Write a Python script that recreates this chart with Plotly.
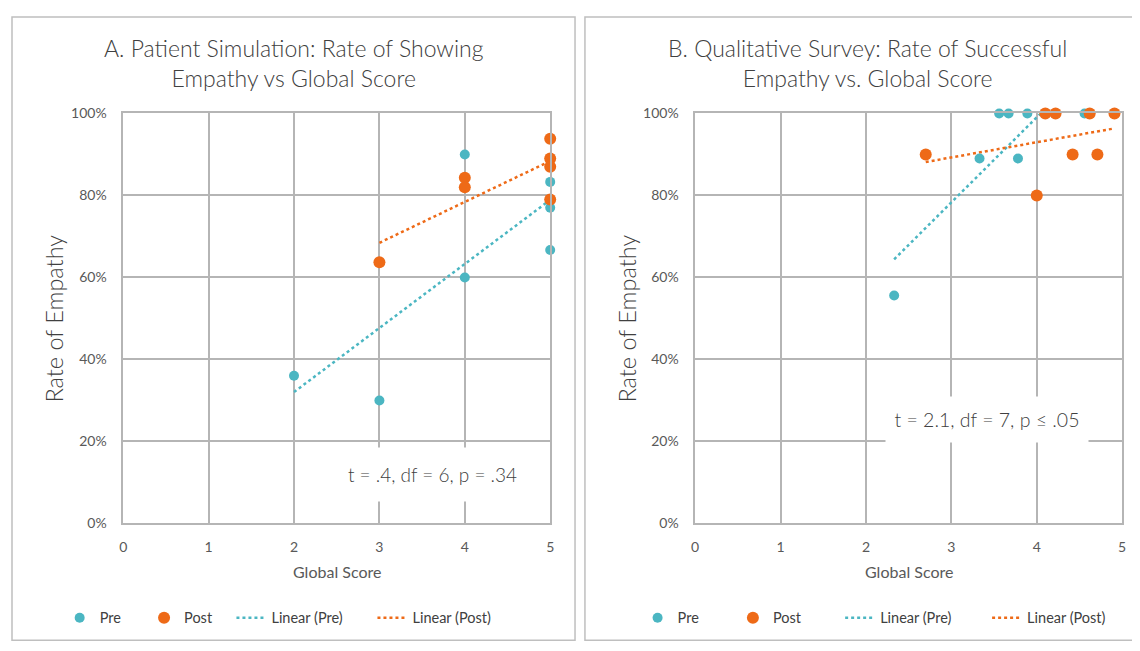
import numpy as np
import plotly.graph_objects as go

# ---------------- data ----------------
a_pre_x = [2, 3, 4, 4, 5, 5, 5]
a_pre_y = [0.36, 0.30, 0.90, 0.60, 0.833, 0.77, 0.667]
a_post_x = [3, 4, 4, 5, 5, 5, 5]
a_post_y = [0.637, 0.843, 0.82, 0.938, 0.89, 0.87, 0.79]

b_pre_x = [2.33, 3.33, 3.56, 3.67, 3.78, 3.89, 4.56]
b_pre_y = [0.556, 0.89, 1.0, 1.0, 0.89, 1.0, 1.0]
b_post_x = [2.7, 4.1, 4.22, 4.62, 4.91, 4.42, 4.71, 4.0]
b_post_y = [0.90, 1.0, 1.0, 1.0, 1.0, 0.90, 0.90, 0.80]

titles = ["A. Patient Simulation: Rate of Showing<br>Empathy vs Global Score",
          "B. Qualitative Survey: Rate of Successful<br>Empathy vs. Global Score"]
stats = ["t = .4, df = 6, p = .34", "t = 2.1, df = 7, p \u2264 .05"]
series_names = ["Pre", "Post", "Linear (Pre)", "Linear (Post)"]
x_ticks = [0, 1, 2, 3, 4, 5]
y_ticks = [0, 0.2, 0.4, 0.6, 0.8, 1.0]

TEAL = "#4BB6C2"
ORANGE = "#EE6A17"
GRID = "#B5B5B5"
FONT = "Lato"
W, H = 1140, 651
OFF = 8  # page body margin

def px(v):
    return (v - OFF) / W

def py(v):
    return 1 - (v - OFF) / H

fig = go.Figure()

def trend(xs, ys):
    m, b = np.polyfit(xs, ys, 1)
    x0, x1 = min(xs), max(xs)
    return [x0, x1], [m * x0 + b, m * x1 + b]

# legend item start positions (px) for each panel: Pre, Post, Linear (Pre), Linear (Post)
legend_starts = [[56, 141, 229, 371], [638, 734, 842, 990]]

panels = [
    ("x", "y", a_pre_x, a_pre_y, a_post_x, a_post_y),
    ("x2", "y2", b_pre_x, b_pre_y, b_post_x, b_post_y),
]
legend_layout = {}
for p, (xa, ya, prx, pry, pox, poy) in enumerate(panels):
    ids = []
    for k in range(4):
        n = p * 4 + k + 1
        lid = "legend" if n == 1 else f"legend{n}"
        ids.append(lid)
        legend_layout[lid] = dict(x=px(legend_starts[p][k]), y=py(625), xanchor="left",
                                  yanchor="middle", orientation="h",
                                  font=dict(family=FONT, size=14.5, color="#404040"),
                                  bgcolor="rgba(0,0,0,0)", itemwidth=30)
    tx, ty = trend(prx, pry)
    fig.add_trace(go.Scatter(x=tx, y=ty, mode="lines", name=series_names[2],
                             line=dict(color=TEAL, width=2.5, dash="dot"),
                             xaxis=xa, yaxis=ya, legend=ids[2]))
    tx, ty = trend(pox, poy)
    fig.add_trace(go.Scatter(x=tx, y=ty, mode="lines", name=series_names[3],
                             line=dict(color=ORANGE, width=2.5, dash="dot"),
                             xaxis=xa, yaxis=ya, legend=ids[3]))
    fig.add_trace(go.Scatter(x=prx, y=pry, mode="markers", name=series_names[0],
                             marker=dict(color=TEAL, size=10), xaxis=xa, yaxis=ya,
                             legend=ids[0], cliponaxis=False))
    fig.add_trace(go.Scatter(x=pox, y=poy, mode="markers", name=series_names[1],
                             marker=dict(color=ORANGE, size=12), xaxis=xa, yaxis=ya,
                             legend=ids[1], cliponaxis=False))

axis_common = dict(showgrid=True, gridcolor=GRID, gridwidth=1.5,
                   showline=True, linecolor=GRID, linewidth=1.5, mirror=True,
                   zeroline=False, ticks="", tickfont=dict(family=FONT, size=14, color="#595959"))

fig.update_layout(
    width=W, height=H, margin=dict(l=0, r=0, t=0, b=0),
    paper_bgcolor="white", plot_bgcolor="white", showlegend=True,
    font=dict(family=FONT, color="#404040"),
    xaxis=dict(domain=[px(120), px(550)], range=[0, 5], tickvals=x_ticks,
               anchor="y", ticklabelstandoff=10, **axis_common),
    yaxis=dict(domain=[py(528), py(107)], range=[0, 1], tickvals=y_ticks,
               tickformat=".0%", anchor="x", ticklabelstandoff=12, **axis_common),
    xaxis2=dict(domain=[px(696), px(1126)], range=[0, 5], tickvals=x_ticks,
                anchor="y2", ticklabelstandoff=10, **axis_common),
    yaxis2=dict(domain=[py(528), py(107)], range=[0, 1], tickvals=y_ticks,
                tickformat=".0%", anchor="x2", ticklabelstandoff=12, **axis_common),
    **legend_layout,
)

# panel borders
for x0, x1 in [(8, 575), (585, 1137)]:
    fig.add_shape(type="rect", xref="paper", yref="paper",
                  x0=px(x0), x1=px(x1), y0=py(648), y1=py(8),
                  line=dict(color="#BFBFBF", width=1.5), fillcolor="rgba(0,0,0,0)", layer="below")

# titles and axis titles
for cx, xt, ttl in [(292, 335, titles[0]), (870, 911, titles[1])]:
    fig.add_annotation(xref="paper", yref="paper", x=px(cx), y=py(55), text=ttl,
                       showarrow=False, xanchor="center", yanchor="middle",
                       font=dict(family=FONT, size=23, color="#404040", weight=300))
    fig.add_annotation(xref="paper", yref="paper", x=px(xt), y=py(577), text="Global Score",
                       showarrow=False, xanchor="center", yanchor="middle",
                       font=dict(family=FONT, size=16, color="#595959"))
for yx in [50, 627]:
    fig.add_annotation(xref="paper", yref="paper", x=px(yx), y=py(318), text="Rate of Empathy",
                       showarrow=False, textangle=-90, xanchor="center", yanchor="middle",
                       font=dict(family=FONT, size=23.5, color="#404040", weight=300))

# stats boxes
fig.add_annotation(xref="x", yref="y", x=3.62, y=0.12, text=stats[0], showarrow=False,
                   xanchor="center", yanchor="middle", bgcolor="white", width=205, height=51,
                   font=dict(family=FONT, size=19, color="#404040", weight=300))
fig.add_annotation(xref="x2", yref="y2", x=3.42, y=0.254, text=stats[1], showarrow=False,
                   xanchor="center", yanchor="middle", bgcolor="white", width=200, height=43,
                   font=dict(family=FONT, size=19.5, color="#404040", weight=300))

fig.write_html("out.html")
